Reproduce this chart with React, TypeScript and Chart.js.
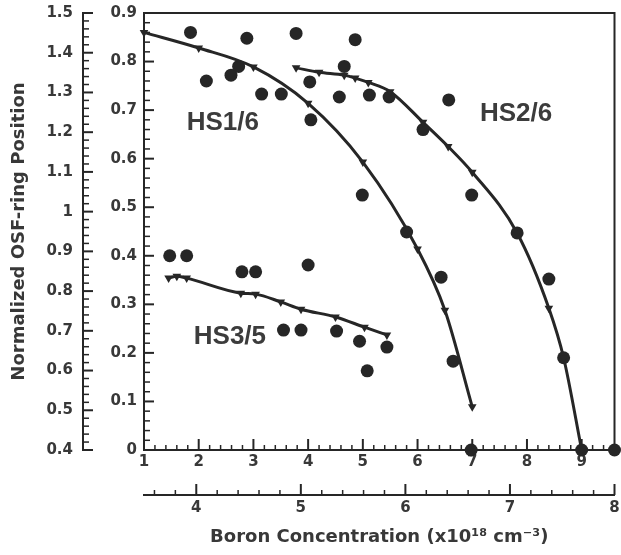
import React, { useEffect, useRef } from "react";
import { Chart, registerables } from "chart.js";

Chart.register(...registerables);

// ---------- data ----------
// HS1/6 model curve (line markers)
const hs1ModelX = [1.0, 2.0, 3.0, 4.0, 5.0, 6.0, 6.5, 7.0];
const hs1ModelY = [0.86, 0.828, 0.789, 0.714, 0.593, 0.414, 0.288, 0.089];
// HS1/6 measured (circles)
const hs1MeasX = [1.85, 2.14, 2.59, 2.73, 2.88, 3.15, 3.51, 3.78, 4.05, 4.99, 5.8, 6.43, 6.65, 6.98];
const hs1MeasY = [0.86, 0.76, 0.772, 0.79, 0.848, 0.733, 0.733, 0.858, 0.68, 0.525, 0.449, 0.356, 0.183, 0.0];

// HS2/6 model curve
const hs2ModelX = [3.78, 4.2, 4.66, 4.86, 5.1, 5.5, 6.1, 6.56, 7.0, 7.82, 8.4, 8.67, 9.0];
const hs2ModelY = [0.787, 0.778, 0.772, 0.766, 0.757, 0.738, 0.675, 0.625, 0.572, 0.447, 0.292, 0.19, 0.0];
// HS2/6 measured
const hs2MeasX = [4.03, 4.57, 4.66, 4.86, 5.12, 5.48, 6.1, 6.57, 6.99, 7.82, 8.4, 8.67, 9.0, 9.6];
const hs2MeasY = [0.758, 0.727, 0.79, 0.845, 0.731, 0.727, 0.66, 0.721, 0.525, 0.447, 0.352, 0.19, 0.0, 0.0];

// HS3/5 model curve
const hs3ModelX = [1.45, 1.6, 1.78, 2.77, 3.04, 3.5, 3.87, 4.5, 5.03, 5.44];
const hs3ModelY = [0.354, 0.358, 0.354, 0.323, 0.321, 0.305, 0.29, 0.274, 0.253, 0.237];
// HS3/5 measured
const hs3MeasX = [1.47, 1.78, 2.79, 3.04, 3.55, 3.87, 4.0, 4.52, 4.94, 5.08, 5.44];
const hs3MeasY = [0.4, 0.4, 0.367, 0.367, 0.247, 0.247, 0.381, 0.245, 0.224, 0.163, 0.212];

// series annotations (placed in data coordinates)
const seriesNames = ["HS1/6", "HS2/6", "HS3/5"];
const seriesLabelX = [2.44, 7.8, 2.57];
const seriesLabelY = [0.674, 0.692, 0.233];

// tick values
const xTicks = [1, 2, 3, 4, 5, 6, 7, 8, 9];
const x2Ticks = [4, 5, 6, 7, 8];
const yTicks = [0, 0.1, 0.2, 0.3, 0.4, 0.5, 0.6, 0.7, 0.8, 0.9];
const y2Ticks = [0.4, 0.5, 0.6, 0.7, 0.8, 0.9, 1.0, 1.1, 1.2, 1.3, 1.4, 1.5];

const xTitle = "Boron Concentration (x10\u00B9\u2078 cm\u207B\u00B3)";
const yTitle = "Normalized OSF-ring Position";

// ---------- styling ----------
const INK = "#262626";
const TEXT = "#383838";
const FONT = "'DejaVu Sans', sans-serif";
const LABEL_FONT = "'Liberation Sans', Arial, sans-serif";

const zip = (xs: number[], ys: number[]) => xs.map((x, i) => ({ x, y: ys[i] }));
const fmt = (v: number) => String(Number(v.toFixed(2)));

const tickSpecs = [
  { id: "x", minor: 0.2, major: 1, majorLen: 11, minorLen: 5 },
  { id: "x2", minor: 0.2, major: 1, majorLen: 11, minorLen: 5 },
  { id: "y", minor: 0.02, major: 0.1, majorLen: 10, minorLen: 6 },
  { id: "y2", minor: 0.02, major: 0.1, majorLen: 10, minorLen: 6 },
];

const framePlugin = {
  id: "frameAndTicks",
  beforeDatasetsDraw(chart: any) {
    const ctx = chart.ctx;
    const { left, right, top, bottom } = chart.chartArea;
    ctx.save();
    ctx.strokeStyle = INK;
    ctx.lineWidth = 2;
    ctx.beginPath();
    ctx.moveTo(left, top);
    ctx.lineTo(right, top);
    ctx.lineTo(right, bottom);
    ctx.stroke();
    for (const spec of tickSpecs) {
      const sc = chart.scales[spec.id];
      if (!sc) continue;
      const start = Math.ceil(sc.min / spec.minor - 1e-6);
      const end = Math.floor(sc.max / spec.minor + 1e-6);
      for (let i = start; i <= end; i++) {
        const v = i * spec.minor;
        const r = v / spec.major;
        const isMajor = Math.abs(r - Math.round(r)) < 1e-6;
        const len = isMajor ? spec.majorLen : spec.minorLen;
        const p = sc.getPixelForValue(v);
        ctx.lineWidth = isMajor ? 2 : 1.5;
        ctx.beginPath();
        if (sc.isHorizontal()) {
          ctx.moveTo(p, sc.top);
          ctx.lineTo(p, sc.top - len);
        } else {
          ctx.moveTo(sc.right, p);
          ctx.lineTo(sc.right + len, p);
        }
        ctx.stroke();
      }
    }
    ctx.restore();
  },
  afterDatasetsDraw(chart: any) {
    const ctx = chart.ctx;
    const xs = chart.scales.x;
    const ys = chart.scales.y;
    ctx.save();
    ctx.fillStyle = "#3c3c3c";
    ctx.font = `bold 26px ${LABEL_FONT}`;
    ctx.textAlign = "center";
    ctx.textBaseline = "middle";
    seriesNames.forEach((n, i) => {
      ctx.fillText(n, xs.getPixelForValue(seriesLabelX[i]), ys.getPixelForValue(seriesLabelY[i]));
    });
    ctx.restore();
  },
};

const modelDs = (xs: number[], ys: number[]) => ({
  data: zip(xs, ys),
  showLine: true,
  borderColor: INK,
  borderWidth: 3,
  backgroundColor: INK,
  pointStyle: "triangle",
  pointRotation: 180,
  pointRadius: 5,
  pointBorderWidth: 0,
  cubicInterpolationMode: "monotone",
  clip: false,
  xAxisID: "x",
  yAxisID: "y",
});

const measDs = (xs: number[], ys: number[]) => ({
  data: zip(xs, ys),
  showLine: false,
  backgroundColor: INK,
  borderColor: INK,
  pointRadius: 6.5,
  pointBorderWidth: 0,
  clip: false,
  xAxisID: "x",
  yAxisID: "y",
});

export default function App() {
  const ref = useRef<HTMLCanvasElement | null>(null);

  useEffect(() => {
    if (!ref.current) return;
    const tickFont = { family: FONT, size: 15, weight: "bold" as const };
    const chart = new Chart(ref.current, {
      type: "scatter",
      data: {
        datasets: [
          modelDs(hs1ModelX, hs1ModelY),
          modelDs(hs2ModelX, hs2ModelY),
          modelDs(hs3ModelX, hs3ModelY),
          measDs(hs1MeasX, hs1MeasY),
          measDs(hs2MeasX, hs2MeasY),
          measDs(hs3MeasX, hs3MeasY),
        ] as any,
      },
      options: {
        animation: false,
        responsive: false,
        maintainAspectRatio: false,
        layout: { padding: { top: 13, right: 1, left: 0, bottom: 0 } },
        plugins: { legend: { display: false }, tooltip: { enabled: false } },
        scales: {
          x: {
            type: "linear",
            position: "bottom",
            weight: 0,
            min: 1,
            max: 9.6,
            grid: { display: false, drawTicks: false, tickLength: 0 },
            border: { display: true, color: INK, width: 2 },
            afterBuildTicks: (s: any) => {
              s.ticks = xTicks.map((v) => ({ value: v }));
            },
            afterFit: (s: any) => {
              s.height = 45;
              s.paddingLeft = 0;
              s.paddingRight = 0;
            },
            ticks: { color: TEXT, font: tickFont, padding: 3, maxRotation: 0, autoSkip: false, callback: (v: any) => fmt(Number(v)) },
          },
          x2: {
            type: "linear",
            position: "bottom",
            weight: 1,
            min: 3.5,
            max: 8,
            grid: { display: false, drawTicks: false, tickLength: 0 },
            border: { display: true, color: INK, width: 2 },
            afterBuildTicks: (s: any) => {
              s.ticks = x2Ticks.map((v) => ({ value: v }));
            },
            afterFit: (s: any) => {
              s.height = 60;
              s.paddingLeft = 0;
              s.paddingRight = 0;
            },
            ticks: { color: TEXT, font: tickFont, padding: 4, maxRotation: 0, autoSkip: false, callback: (v: any) => fmt(Number(v)) },
            title: {
              display: true,
              text: xTitle,
              color: TEXT,
              font: { family: FONT, size: 18, weight: "bold" },
              padding: { top: 0, bottom: 7 },
            },
          },
          y: {
            type: "linear",
            position: "left",
            weight: 0,
            min: 0,
            max: 0.9,
            grid: { display: false, drawTicks: false, tickLength: 0 },
            border: { display: true, color: INK, width: 2 },
            afterBuildTicks: (s: any) => {
              s.ticks = yTicks.map((v) => ({ value: v }));
            },
            afterFit: (s: any) => {
              s.width = 61;
              s.paddingTop = 0;
              s.paddingBottom = 0;
            },
            ticks: { color: TEXT, font: tickFont, padding: 7, autoSkip: false, callback: (v: any) => fmt(Number(v)) },
          },
          y2: {
            type: "linear",
            position: "left",
            weight: 1,
            min: 0.4,
            max: 1.5,
            grid: { display: false, drawTicks: false, tickLength: 0 },
            border: { display: true, color: INK, width: 2 },
            afterBuildTicks: (s: any) => {
              s.ticks = y2Ticks.map((v) => ({ value: v }));
            },
            afterFit: (s: any) => {
              s.width = 83;
              s.paddingTop = 0;
              s.paddingBottom = 0;
            },
            ticks: { color: TEXT, font: tickFont, padding: 10, autoSkip: false, callback: (v: any) => fmt(Number(v)) },
            title: {
              display: true,
              text: yTitle,
              color: TEXT,
              font: { family: FONT, size: 18, weight: "bold" },
              padding: { top: 9, bottom: 0 },
            },
          },
        },
      } as any,
      plugins: [framePlugin],
    });
    return () => chart.destroy();
  }, []);

  return (
    <div style={{ position: "absolute", left: 0, top: 0, width: 621, height: 555, background: "#fff" }}>
      <canvas ref={ref} width={621} height={555} style={{ display: "block" }} />
    </div>
  );
}
